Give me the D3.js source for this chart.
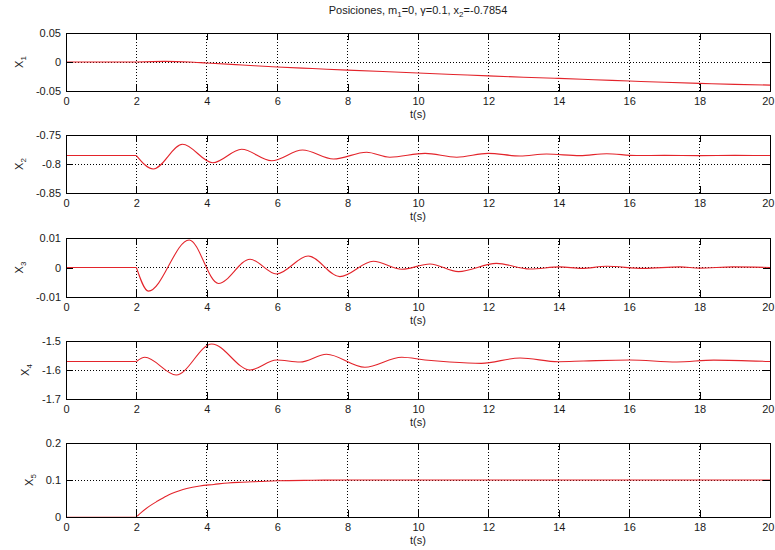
<!DOCTYPE html>
<html>
<head>
<meta charset="utf-8">
<script src="https://cdn.jsdelivr.net/npm/d3@7"></script>
<style>
  body { margin: 0; background: #fff; }
  text { font-family: "Liberation Sans", Arial, Helvetica, sans-serif; fill: #1a1a1a; }
</style>
</head>
<body>
<svg id="chart" width="775" height="550"></svg>
<script>
// ---- data ----
const titleText = ["Posiciones, m", "1", "=0, \u03b3=0.1, x", "2", "=-0.7854"];
const timeTicks = [0, 2, 4, 6, 8, 10, 12, 14, 16, 18, 20];
const stateNames = ["1", "2", "3", "4", "5"];
const yDomains = [[-0.05, 0.05], [-0.85, -0.75], [-0.01, 0.01], [-1.7, -1.5], [0, 0.2]];
const yTickValues = [[-0.05, 0, 0.05], [-0.85, -0.8, -0.75], [-0.01, 0, 0.01], [-1.7, -1.6, -1.5], [0, 0.1, 0.2]];
const yTickLabels = [["-0.05", "0", "0.05"], ["-0.85", "-0.8", "-0.75"], ["-0.01", "0", "0.01"], ["-1.7", "-1.6", "-1.5"], ["0", "0.1", "0.2"]];

const x1Time  = [0, 2, 2.8, 3.5, 4, 5, 6, 7, 8, 9, 10, 11, 12, 13, 14, 15, 16, 17, 18, 19, 20];
const x1Value = [0, 0, 0.001, 0.0, -0.0018, -0.0052, -0.0086, -0.0113, -0.014, -0.0165, -0.019, -0.0215, -0.024, -0.0262, -0.0283, -0.0305, -0.0328, -0.035, -0.0368, -0.0385, -0.0398];

const x2Time  = [0, 2, 2.48, 3.31, 4.17, 4.99, 5.84, 6.72, 7.6, 8.54, 9.2, 10.2, 11.1, 11.99, 12.9, 13.65, 14.6, 15.36, 16.2, 17, 18, 19, 20];
const x2Value = [-0.7854, -0.7854, -0.8086, -0.7660, -0.7978, -0.7746, -0.7944, -0.7759, -0.7914, -0.7798, -0.7884, -0.7816, -0.7884, -0.7816, -0.7862, -0.7828, -0.7856, -0.7822, -0.7854, -0.7852, -0.7856, -0.7852, -0.7854];

const x3Time  = [0, 2, 2.34, 3.5, 4.33, 5.23, 5.98, 6.88, 7.78, 8.73, 9.54, 10.34, 11.15, 12.23, 13.18, 14.03, 14.65, 15.36, 16.4, 17.44, 18.0, 18.95, 20];
const x3Value = [0, 0, -0.0080, 0.0093, -0.0054, 0.0028, -0.0022, 0.0039, -0.0031, 0.0021, -0.0006, 0.0012, -0.0014, 0.0014, -0.0005, 0.0002, -0.0003, 0.0004, -0.0003, 0.0002, -0.0002, 0.0002, 0];

const x4Time  = [0, 2, 2.24, 3.13, 4.14, 5.23, 5.98, 6.65, 7.4, 8.49, 9.54, 10.2, 10.9, 11.8, 12.9, 13.99, 14.7, 16.02, 17.35, 18.4, 20];
const x4Value = [-1.5708, -1.5708, -1.5562, -1.6172, -1.5103, -1.6000, -1.5655, -1.5724, -1.5459, -1.5907, -1.5562, -1.5655, -1.5724, -1.5770, -1.5586, -1.5713, -1.5690, -1.5655, -1.5724, -1.5660, -1.5708];

const x5Time  = [0, 2, 2.15, 2.35, 2.6, 2.86, 3.2, 3.43, 3.8, 4.2, 4.6, 5, 5.5, 6, 7, 8, 20];
const x5Value = [0, 0, 0.013, 0.028, 0.043, 0.057, 0.070, 0.077, 0.084, 0.088, 0.092, 0.094, 0.096, 0.098, 0.0993, 0.1, 0.1];

const seriesTime  = [x1Time, x2Time, x3Time, x4Time, x5Time];
const seriesValue = [x1Value, x2Value, x3Value, x4Value, x5Value];
const stepTime = 2;   // time at which the disturbance starts

// ---- layout ----
const svg = d3.select("#chart");
const left = 66, right = 770;
const panelTop    = [33, 135, 238, 341, 443];
const panelBottom = [91, 193, 297, 399, 517];
const tickLen = 7;
const lineColor = "#e3242b";

const x = d3.scaleLinear().domain([0, 20]).range([left, right]);
const defs = svg.append("defs");

// title with subscripts
const title = svg.append("text")
  .attr("x", (left + right) / 2).attr("y", 14)
  .attr("text-anchor", "middle").style("font-size", "11px");
titleText.forEach((s, i) => {
  const sub = i % 2 === 1;
  title.append("tspan").text(s)
    .attr("dy", sub ? 3 : (i > 0 ? -3 : 0))
    .style("font-size", sub ? "8px" : "11px");
});

stateNames.forEach((name, p) => {
  const top = panelTop[p], bottom = panelBottom[p];
  const y = d3.scaleLinear().domain(yDomains[p]).range([bottom, top]);
  const g = svg.append("g");

  // clip so the curves stay inside the axes box
  defs.append("clipPath").attr("id", `clip${p}`)
    .append("rect").attr("x", left).attr("y", top + 0.5)
    .attr("width", right - left).attr("height", bottom - top - 1);

  // dotted grid
  g.append("g").selectAll("line.vg").data(timeTicks.slice(1, -1)).join("line")
    .attr("x1", d => x(d)).attr("x2", d => x(d)).attr("y1", top).attr("y2", bottom)
    .attr("stroke", "#000").attr("stroke-width", 1).attr("stroke-dasharray", "1,2")
    .attr("shape-rendering", "crispEdges");
  g.append("g").selectAll("line.hg").data(yTickValues[p].slice(1, -1)).join("line")
    .attr("x1", left).attr("x2", right).attr("y1", d => y(d)).attr("y2", d => y(d))
    .attr("stroke", "#000").attr("stroke-width", 1).attr("stroke-dasharray", "1,2")
    .attr("shape-rendering", "crispEdges");

  // series: flat segment before the step, smooth response afterwards
  const pts = seriesTime[p].map((t, i) => [t, seriesValue[p][i]]);
  const pre = pts.filter(d => d[0] <= stepTime);
  const post = pts.filter(d => d[0] >= stepTime);
  const plot = g.append("g").attr("clip-path", `url(#clip${p})`);
  plot.append("path").datum(pre)
    .attr("d", d3.line().x(d => x(d[0])).y(d => y(d[1])))
    .attr("fill", "none").attr("stroke", lineColor).attr("stroke-width", 1.1);
  plot.append("path").datum(post)
    .attr("d", d3.line().curve(d3.curveMonotoneX).x(d => x(d[0])).y(d => y(d[1])))
    .attr("fill", "none").attr("stroke", lineColor).attr("stroke-width", 1.1);

  // axes with inward ticks on all four sides
  const axB = g.append("g").attr("transform", `translate(0,${bottom})`)
    .call(d3.axisBottom(x).tickValues(timeTicks).tickFormat(d3.format("d"))
      .tickSizeInner(-tickLen).tickSizeOuter(0).tickPadding(6));
  const axT = g.append("g").attr("transform", `translate(0,${top})`)
    .call(d3.axisTop(x).tickValues(timeTicks).tickFormat("")
      .tickSizeInner(-tickLen).tickSizeOuter(0));
  const axL = g.append("g").attr("transform", `translate(${left},0)`)
    .call(d3.axisLeft(y).tickValues(yTickValues[p]).tickFormat((d, i) => yTickLabels[p][i])
      .tickSizeInner(-tickLen).tickSizeOuter(0).tickPadding(5));
  const axR = g.append("g").attr("transform", `translate(${right},0)`)
    .call(d3.axisRight(y).tickValues(yTickValues[p]).tickFormat("")
      .tickSizeInner(-tickLen).tickSizeOuter(0));
  [axB, axT, axL, axR].forEach(a => {
    a.select(".domain").remove();
    a.selectAll("line").attr("stroke", "#000").attr("shape-rendering", "crispEdges");
    a.selectAll("text").style("font-size", "11px").attr("fill", "#1a1a1a")
      .style("font-family", '"Liberation Sans", Arial, sans-serif');
  });
  // keep the last time label inside the window edge
  axB.selectAll(".tick").filter(d => d === timeTicks[timeTicks.length - 1])
    .select("text").attr("text-anchor", "end").attr("x", 774 - right);

  // box drawn over the data
  g.append("rect").attr("x", left).attr("y", top)
    .attr("width", right - left).attr("height", bottom - top)
    .attr("fill", "none").attr("stroke", "#000").attr("shape-rendering", "crispEdges");

  // y label X_n, placed left of the widest tick label
  let maxW = 0;
  axL.selectAll("text").each(function () { maxW = Math.max(maxW, this.getComputedTextLength()); });
  const lx = left - 5 - maxW - 13;
  const yl = g.append("text")
    .attr("transform", `translate(${lx},${(top + bottom) / 2}) rotate(-90)`)
    .attr("text-anchor", "middle").style("font-size", "11px");
  yl.append("tspan").text("X");
  yl.append("tspan").text(name).attr("dy", 3).style("font-size", "8px");

  // x label
  g.append("text").attr("x", (left + right) / 2).attr("y", bottom + 27)
    .attr("text-anchor", "middle").style("font-size", "11px").text("t(s)");
});
</script>
</body>
</html>
